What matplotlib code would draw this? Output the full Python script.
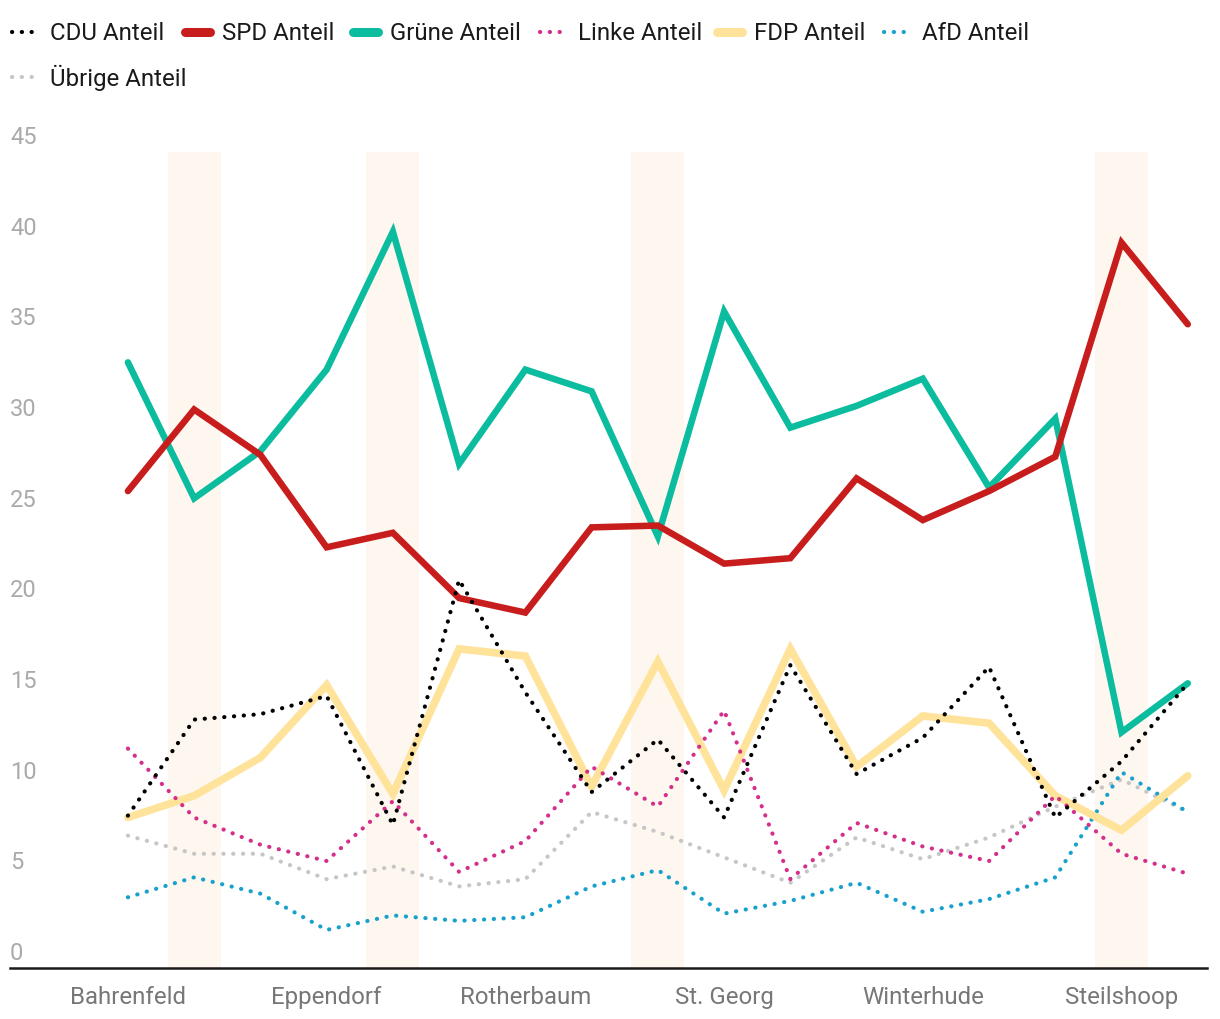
import numpy as np
import matplotlib
matplotlib.use("Agg")
import matplotlib.pyplot as plt
import matplotlib.transforms as mtransforms
from matplotlib.lines import Line2D

plt.rcParams['font.family'] = ['Roboto', 'DejaVu Sans']

# Stimmenanteile (%) je Stadtteil, 17 Stadtteile
cdu = [8.4, 13.7, 14.0, 15.0, 7.9, 21.4, 15.2, 9.7, 12.6, 8.3, 16.7, 10.7, 12.7, 16.6, 8.3, 11.4, 15.7]
spd = [26.3, 30.8, 28.3, 23.2, 24.0, 20.4, 19.6, 24.3, 24.4, 22.3, 22.6, 27.0, 24.7, 26.3, 28.2, 40.0, 35.5]
gruene = [33.4, 25.9, 28.5, 33.0, 40.6, 27.8, 33.0, 31.8, 23.8, 36.2, 29.8, 31.0, 32.5, 26.5, 30.3, 13.0, 15.7]
linke = [12.1, 8.3, 6.8, 5.9, 9.2, 5.3, 7.0, 11.1, 8.9, 14.2, 4.9, 8.0, 6.7, 5.9, 9.5, 6.3, 5.2]
fdp = [8.3, 9.5, 11.6, 15.6, 9.6, 17.6, 17.2, 10.0, 16.9, 9.8, 17.6, 11.1, 13.9, 13.5, 9.5, 7.6, 10.6]
afd = [3.9, 5.0, 4.1, 2.1, 2.9, 2.6, 2.8, 4.5, 5.4, 3.0, 3.7, 4.7, 3.1, 3.8, 5.0, 10.8, 8.6]
uebrige = [7.3, 6.3, 6.3, 4.9, 5.6, 4.5, 4.9, 8.6, 7.5, 6.1, 4.7, 7.2, 6.0, 7.2, 8.9, 10.4, 8.6]

tick_idx = [0, 3, 6, 9, 12, 15]
tick_labels = ["Bahrenfeld", "Eppendorf", "Rotherbaum", "St. Georg", "Winterhude", "Steilshoop"]
highlight_idx = [1, 4, 8, 15]
y_ticks = [0, 5, 10, 15, 20, 25, 30, 35, 40, 45]

# (name, werte, farbe, breite, gepunktet)
series = [
    ("CDU Anteil", cdu, "#000000", 3.0, True),
    ("SPD Anteil", spd, "#c71e1d", 4.7, False),
    ("Grüne Anteil", gruene, "#0bbc9e", 4.7, False),
    ("Linke Anteil", linke, "#d32f8b", 3.0, True),
    ("FDP Anteil", fdp, "#ffe39b", 5.5, False),
    ("AfD Anteil", afd, "#18a1cd", 3.0, True),
    ("Übrige Anteil", uebrige, "#c6c6c6", 3.0, True),
]

W, H = 1220, 1020
fig = plt.figure(figsize=(W / 100, H / 100), dpi=100)
ax = fig.add_axes([10 / W, 1 - 969 / H, 1197 / W, (969 - 153) / H])

x = np.arange(len(cdu))
ax.set_xlim(-1.78, 16.29)
ax.set_ylim(0, 45)

for i in highlight_idx:
    ax.axvspan(i - 0.40, i + 0.40, color="#fef7f0", lw=0, zorder=0)

# reversed so that CDU / SPD sit on top
for k, (name, vals, col, lw, dotted) in enumerate(reversed(series)):
    if dotted:
        ax.plot(x, vals, color=col, lw=lw, dashes=(0.05, 2.3),
                dash_capstyle="round", solid_joinstyle="round", zorder=2 + k)
    else:
        ax.plot(x, vals, color=col, lw=lw, solid_capstyle="round",
                solid_joinstyle="miter", zorder=2 + k)

for s in ["top", "right", "left"]:
    ax.spines[s].set_visible(False)
ax.spines["bottom"].set_color("#1a1a1a")
ax.spines["bottom"].set_linewidth(1.8)
ax.spines["bottom"].set_zorder(20)

ax.set_yticks([])
ax.set_xticks(tick_idx)
ax.set_xticklabels(tick_labels, fontsize=17.3, color="#777777")
ax.tick_params(axis="x", length=0, pad=12)

# y labels sit just above their value
trans = mtransforms.blended_transform_factory(ax.transAxes, ax.transData)
trans = mtransforms.offset_copy(trans, fig=fig, x=0, y=9, units="dots")
for v in y_ticks:
    ax.text(0, v, str(v), transform=trans, ha="left", va="baseline",
            fontsize=17, color="#aaaaaa", clip_on=False)

# legend, laid out by hand
legend_pos = [(10, 33), (182, 33), (350, 33), (538, 33), (714, 33), (882, 33), (10, 78)]
for (name, vals, col, lw, dotted), (lx, ly) in zip(series, legend_pos):
    hx = [(lx + 2) / W, (lx + 30) / W]
    hy = [1 - ly / H, 1 - ly / H]
    if dotted:
        ln = Line2D(hx, hy, color=col, lw=3.0, dashes=(0.05, 2.3), dash_capstyle="round",
                    transform=fig.transFigure)
    else:
        ln = Line2D([(lx + 3) / W, (lx + 28) / W], hy, color=col, lw=6.5,
                    solid_capstyle="round", transform=fig.transFigure)
    fig.add_artist(ln)
    fig.text((lx + 40) / W, 1 - ly / H, name, fontsize=17.3, color="#1a1a1a",
             ha="left", va="center")

fig.savefig("out.png", dpi=100)
